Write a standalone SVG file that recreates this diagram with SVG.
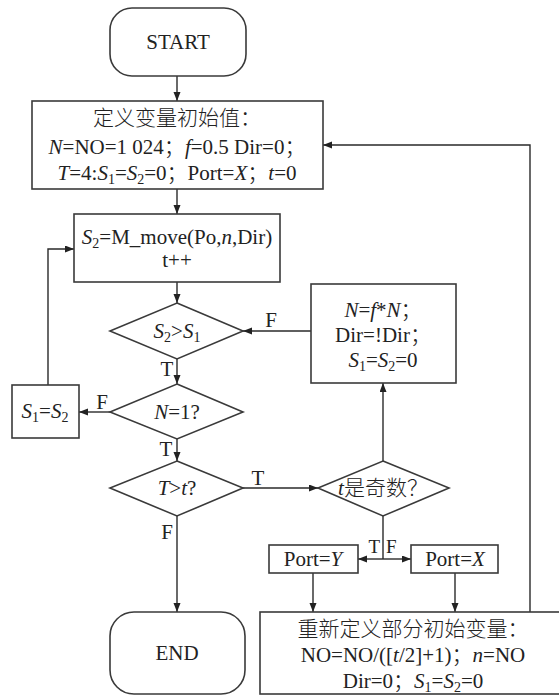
<svg xmlns="http://www.w3.org/2000/svg" width="559" height="696" viewBox="0 0 559 696">
<style>
.b{fill:#fff;stroke:#3a3a3a;stroke-width:1.6}
.c{fill:none;stroke:#2a2a2a;stroke-width:1.4}
text{font-family:"Liberation Serif","Noto Sans CJK SC",serif;font-size:21px;font-weight:300;fill:#222;text-anchor:middle}
.i{font-style:italic}
.s{font-size:14px}
.l{font-size:19px}
</style>
<defs>
<marker id="a" markerUnits="userSpaceOnUse" markerWidth="10" markerHeight="8" refX="9" refY="3.5" orient="auto">
<path d="M0,0 L9,3.5 L0,7 z" fill="#222"/>
</marker>
</defs>
<rect width="559" height="696" fill="#fff"/>
<g id="connectors">
<line class="c" x1="177" y1="76" x2="177" y2="101" marker-end="url(#a)"/>
<line class="c" x1="177" y1="189" x2="177" y2="214" marker-end="url(#a)"/>
<line class="c" x1="177" y1="282" x2="177" y2="303" marker-end="url(#a)"/>
<line class="c" x1="177" y1="359" x2="177" y2="384" marker-end="url(#a)"/>
<line class="c" x1="177" y1="439" x2="177" y2="461" marker-end="url(#a)"/>
<line class="c" x1="177" y1="516" x2="177" y2="612" marker-end="url(#a)"/>
<line class="c" x1="110" y1="412" x2="79" y2="412" marker-end="url(#a)"/>
<polyline class="c" points="48,385 48,249 74,249" marker-end="url(#a)"/>
<line class="c" x1="311" y1="331" x2="243" y2="331" marker-end="url(#a)"/>
<line class="c" x1="243" y1="488" x2="318" y2="488" marker-end="url(#a)"/>
<line class="c" x1="383" y1="461" x2="383" y2="383" marker-end="url(#a)"/>
<line class="c" x1="383" y1="516" x2="383" y2="559"/>
<line class="c" x1="383" y1="559" x2="358" y2="559" marker-end="url(#a)"/>
<line class="c" x1="383" y1="559" x2="411" y2="559" marker-end="url(#a)"/>
<line class="c" x1="313" y1="573" x2="313" y2="612" marker-end="url(#a)"/>
<line class="c" x1="455" y1="573" x2="455" y2="612" marker-end="url(#a)"/>
<polyline class="c" points="530,612 530,145 323,145" marker-end="url(#a)"/>
<text x="271" y="327">F</text>
<text x="167" y="376">T</text>
<text x="102" y="409">F</text>
<text x="166" y="456">T</text>
<text x="258" y="485">T</text>
<text x="167" y="539">F</text>
<text class="l" x="380" y="553" style="text-anchor:end">T</text>
<text class="l" x="386" y="553" style="text-anchor:start">F</text>
</g>
<g id="start">
<rect class="b" x="110" y="8" width="136" height="68" rx="22"/>
<text x="178" y="49">START</text>
</g>
<g id="init">
<rect class="b" x="32" y="101" width="291" height="88"/>
<text x="177" y="125">定义变量初始值：</text>
<text x="177" y="154"><tspan class="i">N</tspan>=NO=1 024；<tspan class="i">f</tspan>=0.5 Dir=0；</text>
<text x="177" y="180"><tspan class="i">T</tspan>=4:<tspan class="i">S</tspan><tspan class="s" dy="4">1</tspan><tspan dy="-4">=</tspan><tspan class="i">S</tspan><tspan class="s" dy="4">2</tspan><tspan dy="-4">=0；Port=</tspan><tspan class="i">X</tspan>；<tspan class="i">t</tspan>=0</text>
</g>
<g id="move">
<rect class="b" x="74" y="214" width="206" height="68"/>
<text x="177" y="244"><tspan class="i">S</tspan><tspan class="s" dy="4">2</tspan><tspan dy="-4">=M_move(Po,</tspan><tspan class="i">n</tspan>,Dir)</text>
<text x="177" y="267">t++</text>
</g>
<g id="cmp">
<polygon class="b" points="177,303 243,331 177,359 110,331"/>
<text x="177" y="338"><tspan class="i">S</tspan><tspan class="s" dy="4">2</tspan><tspan dy="-4">&gt;</tspan><tspan class="i">S</tspan><tspan class="s" dy="4">1</tspan></text>
</g>
<g id="half">
<rect class="b" x="311" y="284" width="145" height="99"/>
<text x="383" y="317"><tspan class="i">N</tspan>=<tspan class="i">f</tspan>*<tspan class="i">N</tspan>；</text>
<text x="383" y="342">Dir=!Dir；</text>
<text x="383" y="367"><tspan class="i">S</tspan><tspan class="s" dy="4">1</tspan><tspan dy="-4">=</tspan><tspan class="i">S</tspan><tspan class="s" dy="4">2</tspan><tspan dy="-4">=0</tspan></text>
</g>
<g id="n1">
<polygon class="b" points="177,384 243,412 177,439 110,412"/>
<text x="177" y="419"><tspan class="i">N</tspan>=1?</text>
</g>
<g id="s1s2">
<rect class="b" x="12" y="385" width="67" height="53"/>
<text x="45" y="418"><tspan class="i">S</tspan><tspan class="s" dy="4">1</tspan><tspan dy="-4">=</tspan><tspan class="i">S</tspan><tspan class="s" dy="4">2</tspan></text>
</g>
<g id="tgt">
<polygon class="b" points="177,461 243,488 177,516 110,488"/>
<text x="177" y="495"><tspan class="i">T</tspan>&gt;<tspan class="i">t</tspan>?</text>
</g>
<g id="odd">
<polygon class="b" points="383,461 449,488 383,516 318,488"/>
<text x="383" y="495"><tspan class="i">t</tspan>是奇数？</text>
</g>
<g id="porty">
<rect class="b" x="269" y="545" width="89" height="28"/>
<text x="313" y="566">Port=<tspan class="i">Y</tspan></text>
</g>
<g id="portx">
<rect class="b" x="411" y="545" width="87" height="28"/>
<text x="455" y="566">Port=<tspan class="i">X</tspan></text>
</g>
<g id="end">
<rect class="b" x="110" y="612" width="135" height="82" rx="24"/>
<text x="177" y="660">END</text>
</g>
<g id="reinit">
<rect class="b" x="260" y="612" width="330" height="82"/>
<text x="413" y="636">重新定义部分初始变量：</text>
<text x="413" y="662">NO=NO/([<tspan class="i">t</tspan>/2]+1)；<tspan class="i">n</tspan>=NO</text>
<text x="413" y="688">Dir=0；<tspan class="i">S</tspan><tspan class="s" dy="4">1</tspan><tspan dy="-4">=</tspan><tspan class="i">S</tspan><tspan class="s" dy="4">2</tspan><tspan dy="-4">=0</tspan></text>
</g>
</svg>
